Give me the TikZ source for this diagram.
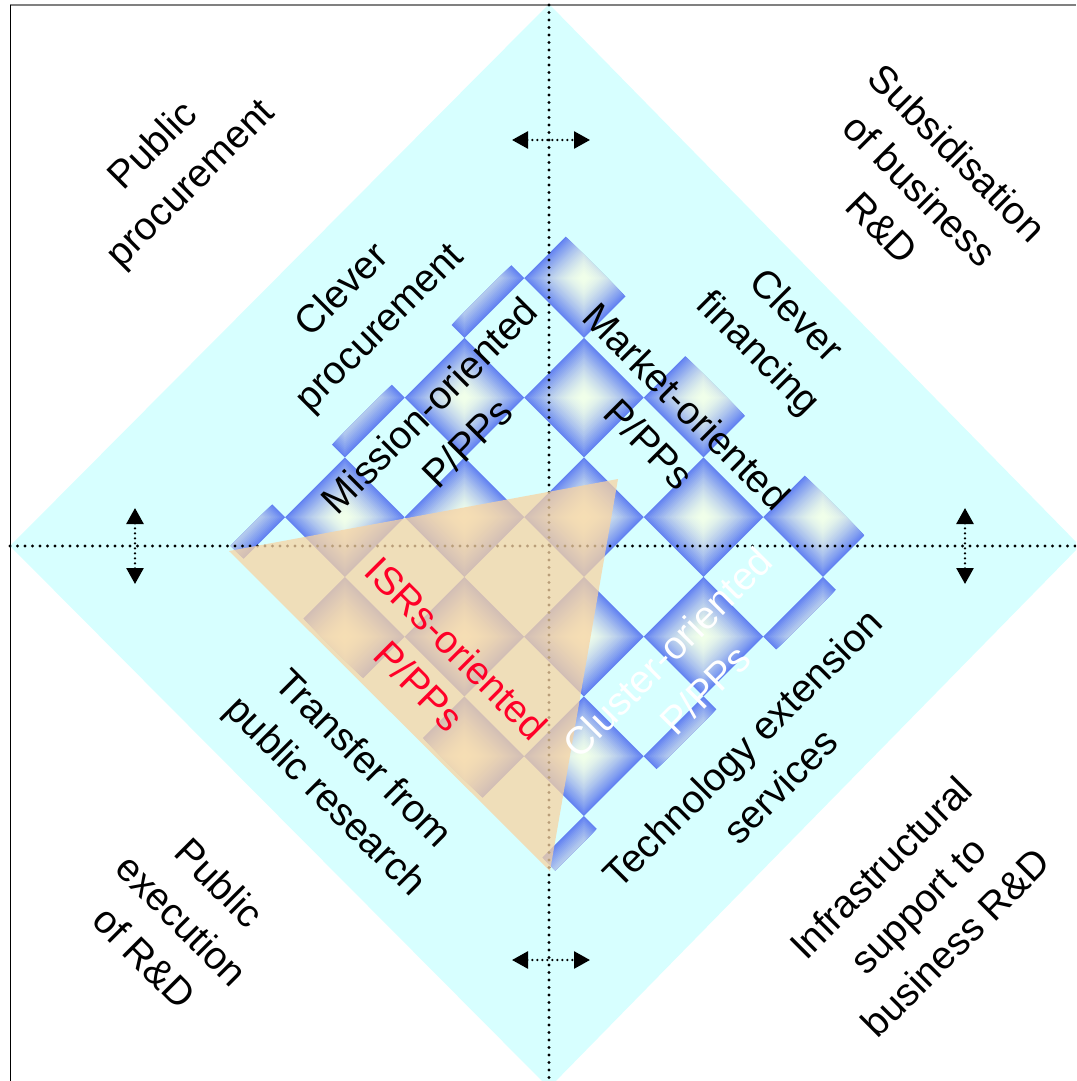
\documentclass[tikz,border=0pt]{standalone}
\usepackage{fontspec}
\setmainfont{Liberation Sans}
\usetikzlibrary{arrows.meta}
\definecolor{bgcyan}{RGB}{215,255,255}
\definecolor{tileblue}{RGB}{98,130,242}
\definecolor{tilepale}{RGB}{240,255,234}
\definecolor{peach}{RGB}{248,211,162}
\definecolor{isrred}{RGB}{255,0,40}
\definecolor{framegray}{RGB}{128,128,128}
\begin{document}
\begin{tikzpicture}[x=1pt,y=-1pt,
  lbl/.style={font=\fontsize{39}{53}\selectfont, align=center, inner sep=0pt},
  axisline/.style={line width=3.3pt, line cap=round, dash pattern=on 0pt off 7.5pt},
  dblarrow/.style={line width=2.6pt, line cap=round, dash pattern=on 0pt off 5pt,
    {Triangle[length=16pt,width=17pt]}-{Triangle[length=16pt,width=17pt]}},
]
\useasboundingbox (0,0) rectangle (1076,1081);
\clip (0,0) rectangle (1076,1081);
% background diamond
\fill[bgcyan] (549,4) -- (1080,546) -- (549,1088) -- (10,546) -- cycle;
% frame
\coordinate (fTL) at (10,5);
\coordinate (fTR) at (1076,5);
\coordinate (fBL) at (10,1081);
\draw[framegray, line width=1.2pt] (fTL) -- (fTR);
\draw[black, line width=1pt] (fTL) -- (fBL);
% checkerboard tiles
\begin{scope}[shift={(554,547)}, x={(0.5pt,-0.5pt)}, y={(0.5pt,0.5pt)}]
  \clip (-324.5,-322) -- (324.5,-322) -- (324.5,322) -- (-324.5,322) -- cycle;
  \foreach \i in {0,...,6}{
    \foreach \j in {0,...,5}{
      \pgfmathtruncatemacro\tpar{mod(\i+\j,2)}
      \ifnum\tpar=0
        \pgfmathsetmacro\cu{-358.5+119.5*\i}
        \pgfmathsetmacro\cw{-298.75+119.5*\j}
        \foreach \k in {0,...,29}{
          \pgfmathsetmacro\hs{59.75*(30-\k)/30}
          \pgfmathtruncatemacro\pc{100*(1-\k/29)^1.6}
          \fill[tileblue!\pc!tilepale] (\cu-\hs,\cw-\hs) -- (\cu+\hs,\cw-\hs) -- (\cu+\hs,\cw+\hs) -- (\cu-\hs,\cw+\hs) -- cycle;
        }
      \fi
    }
  }
\end{scope}
% dotted axes
\coordinate (vT) at (549,5);
\coordinate (vB) at (549,1081);
\coordinate (hL) at (10,546);
\coordinate (hR) at (1076,546);
\draw[axisline] (vT) -- (vB);
\draw[axisline] (hL) -- (hR);
% ISR triangle
\fill[peach, fill opacity=0.75] (229,551) -- (618,479) -- (550,871) -- cycle;
% double arrows
\coordinate (aTl) at (512,140); \coordinate (aTr) at (590,140);
\coordinate (aBl) at (512,960); \coordinate (aBr) at (590,960);
\coordinate (aLt) at (135,508); \coordinate (aLb) at (135,584);
\coordinate (aRt) at (965,508); \coordinate (aRb) at (965,584);
\draw[dblarrow] (aTl) -- (aTr);
\draw[dblarrow] (aBl) -- (aBr);
\draw[dblarrow] (aLt) -- (aLb);
\draw[dblarrow] (aRt) -- (aRb);
% labels
\node[lbl, rotate=45] (pp) at (173,166) {Public\\procurement};
\node[lbl, rotate=-45] (sub) at (920,190) {Subsidisation\\of business\\R\&D};
\node[lbl, rotate=-45] (pe) at (182,920) {Public\\execution\\of R\&D};
\node[lbl, rotate=45] (inf) at (918,905) {Infrastructural\\support to\\business R\&D};
\node[lbl, rotate=45] (cp) at (362,310) {Clever\\procurement};
\node[lbl, rotate=-45] (cf) at (776,336) {Clever\\financing};
\node[lbl, rotate=45] (mo) at (448,424) {Mission-oriented\\P/PPs};
\node[lbl, rotate=-45] (mk) at (668,425) {Market-oriented\\P/PPs};
\node[lbl, rotate=-45, text=isrred] (isr) at (438,667) {ISRs-oriented\\P/PPs};
\node[lbl, rotate=45, text=white] (cl) at (686,671) {Cluster-oriented\\P/PPs};
\node[lbl, rotate=-45] (tr) at (343,779) {Transfer from\\public research};
\node[lbl, rotate=45] (te) at (761,767) {Technology extension\\services};
\end{tikzpicture}
\end{document}
